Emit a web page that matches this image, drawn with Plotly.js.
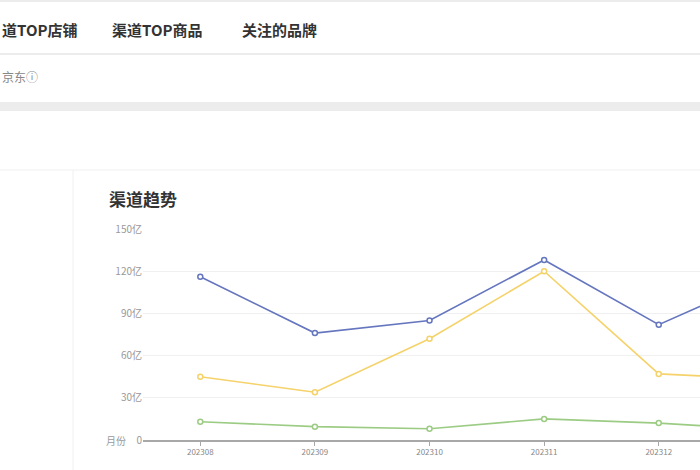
<!DOCTYPE html>
<html><head><meta charset="utf-8">
<script src="https://cdn.plot.ly/plotly-3.0.1.min.js"></script>
<style>html,body{margin:0;padding:0;background:#fff;overflow:hidden}#c{width:700px;height:470px}</style>
</head><body><div id="c"></div>
<script>
var months = ['202308','202309','202310','202311','202312','202401'];
var seriesBlue = [116, 76, 85, 128, 82, 118];
var seriesYellow = [45, 34, 72, 120, 47, 43];
var seriesGreen = [13, 9.5, 8, 15, 12, 7];
var yTickVals = [0, 30, 60, 90, 120, 150];
var yTickText = ['0', '30亿', '60亿', '90亿', '120亿', '150亿'];

var W = 700, H = 470, L = 143, R = 0, T = 229, B = 30;
function px(x){ return (x - L) / (W - L - R); }
function py(y){ return (H - B - y) / (H - T - B); }
var font = "'Noto Sans CJK SC', 'Noto Sans', sans-serif";

function tr(vals, color){
  return {x: months, y: vals, type:'scatter', mode:'lines+markers', cliponaxis:false,
    line:{color:color, width:1.6}, marker:{symbol:'circle', size:5, color:'#fff', line:{color:color, width:1.5}},
    hoverinfo:'none', showlegend:false};
}
var data = [tr(seriesBlue,'#6576bf'), tr(seriesYellow,'#f5d26a'), tr(seriesGreen,'#9ccc84')];

var shapes = [
  {type:'rect', xref:'paper', yref:'paper', x0:px(0), x1:px(700), y0:py(0), y1:py(2), fillcolor:'#ececec', line:{width:0}, layer:'below'},
  {type:'line', xref:'paper', yref:'paper', x0:px(0), x1:px(700), y0:py(54), y1:py(54), line:{color:'#ececec', width:2}},
  {type:'rect', xref:'paper', yref:'paper', x0:px(0), x1:px(700), y0:py(102), y1:py(111), fillcolor:'#ececec', line:{width:0}, layer:'below'},
  {type:'line', xref:'paper', yref:'paper', x0:px(0), x1:px(700), y0:py(170), y1:py(170), line:{color:'#f0f0f0', width:1}},
  {type:'line', xref:'paper', yref:'paper', x0:px(73), x1:px(73), y0:py(170), y1:py(470), line:{color:'#f0f0f0', width:1}}
];

var annotations = [
  {text:'<b>道TOP店铺</b>', x:px(0), y:py(29), xref:'paper', yref:'paper', xanchor:'left', yanchor:'middle', showarrow:false, font:{family:font, size:15, color:'#333'}},
  {text:'<b>渠道TOP商品</b>', x:px(110), y:py(29), xref:'paper', yref:'paper', xanchor:'left', yanchor:'middle', showarrow:false, font:{family:font, size:15, color:'#333'}},
  {text:'<b>关注的品牌</b>', x:px(240), y:py(29), xref:'paper', yref:'paper', xanchor:'left', yanchor:'middle', showarrow:false, font:{family:font, size:15, color:'#333'}},
  {text:'京东ⓘ', x:px(0), y:py(77), xref:'paper', yref:'paper', xanchor:'left', yanchor:'middle', showarrow:false, font:{family:font, size:12, color:'#888'}},
  {text:'<b>渠道趋势</b>', x:px(107), y:py(198), xref:'paper', yref:'paper', xanchor:'left', yanchor:'middle', showarrow:false, font:{family:font, size:17, color:'#333'}},
  {text:'月份', x:px(128), y:py(440), xref:'paper', yref:'paper', xanchor:'right', yanchor:'middle', showarrow:false, font:{family:font, size:10, color:'#999'}}
];

var layout = {
  width:W, height:H, margin:{l:L, r:R, t:T, b:B}, paper_bgcolor:'#fff', plot_bgcolor:'#fff',
  font:{family:font},
  xaxis:{type:'category', range:[-0.5, 4.36], showgrid:false, zeroline:false, showline:true, linecolor:'#a8a8a8', linewidth:1.5,
    ticks:'outside', ticklen:4, tickcolor:'#a8a8a8', tickfont:{size:8, color:'#888'}, fixedrange:true},
  yaxis:{range:[0,150], tickvals:yTickVals, ticktext:yTickText, showgrid:true, gridcolor:'#f0f0f0', gridwidth:1, zeroline:false,
    showline:false, ticks:'', tickfont:{size:10, color:'#999'}, fixedrange:true},
  shapes:shapes, annotations:annotations, showlegend:false
};
Plotly.newPlot('c', data, layout, {displayModeBar:false, staticPlot:true});
</script></body></html>
